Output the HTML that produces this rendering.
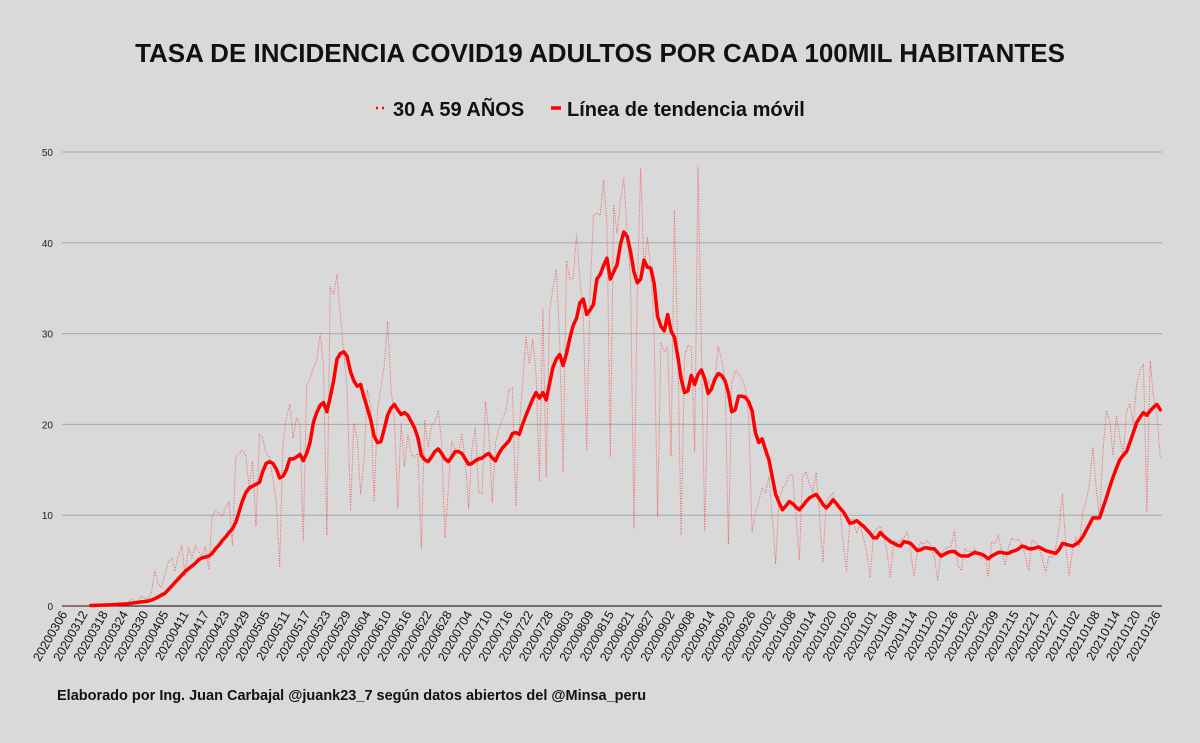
<!DOCTYPE html>
<html><head><meta charset="utf-8">
<style>
html,body{margin:0;padding:0;background:#d9d9d9;}
svg{display:block;font-family:"Liberation Sans",Arial,sans-serif;}
</style></head>
<body>
<svg id="chart" width="1200" height="743" viewBox="0 0 1200 743">
<rect x="0" y="0" width="1200" height="743" fill="#d9d9d9"/>
<text x="600" y="62" text-anchor="middle" font-size="26" font-weight="bold" fill="#111">TASA DE INCIDENCIA COVID19 ADULTOS POR CADA 100MIL HABITANTES</text>
<g>
<g>
<line x1="376" y1="108" x2="388" y2="108" stroke="#ff0000" stroke-width="2.5" stroke-dasharray="2,4"/>
<text x="393" y="116" font-size="20" font-weight="bold" fill="#111">30 A 59 AÑOS</text>
</g>
<g>
<line x1="551" y1="108" x2="561" y2="108" stroke="#ff0000" stroke-width="3.5"/>
<text x="567" y="116" font-size="20" font-weight="bold" fill="#111">Línea de tendencia móvil</text>
</g>
</g>
<g id="grid"></g>
<g id="yaxis"></g>
<g id="xaxis"></g>
<g id="series"></g>
<text x="57" y="700" font-size="14.5" font-weight="bold" fill="#111">Elaborado por Ing. Juan Carbajal @juank23_7 según datos abiertos del @Minsa_peru</text>
</svg>
<script>
const tickLabels = ["20200306","20200312","20200318","20200324","20200330","20200405","20200411","20200417","20200423","20200429","20200505","20200511","20200517","20200523","20200529","20200604","20200610","20200616","20200622","20200628","20200704","20200710","20200716","20200722","20200728","20200803","20200809","20200815","20200821","20200827","20200902","20200908","20200914","20200920","20200926","20201002","20201008","20201014","20201020","20201026","20201101","20201108","20201114","20201120","20201126","20201202","20201209","20201215","20201221","20201227","20210102","20210108","20210114","20210120","20210126"];
const yTicks = [0,10,20,30,40,50];
const dailyValues = [
0,0,0,0,0,0,0,0,0.05,0.1,
0.1,0.1,0.1,0.15,0.2,0.2,0.2,0.25,0.3,0.3,
0.8,0.6,0.5,1.1,0.9,0.8,1.5,3.9,2.5,2.0,
3.5,4.8,5.3,4.0,5.5,6.7,3.3,6.5,5.3,6.6,
6.0,5.5,6.6,4.1,9.9,10.5,10.2,9.9,10.8,11.5,
6.7,16.4,16.8,17.2,16.5,13.0,16.0,8.8,18.9,18.5,
16.8,16.4,14.0,11.5,4.3,18.0,20.8,22.2,18.5,20.7,
20.0,7.1,24.3,25.0,26.3,27.0,30.1,26.5,7.8,35.2,
34.3,36.5,32.0,28.0,24.0,10.5,20.1,18.5,12.3,16.0,
23.8,22.0,11.5,21.5,24.0,26.5,31.3,24.0,20.6,10.8,
20.1,15.4,18.9,16.6,16.5,16.8,6.3,20.5,17.5,19.8,
20.3,21.5,18.0,7.5,13.0,18.2,17.3,16.8,19.0,16.0,
10.7,17.3,19.7,12.5,12.3,22.5,19.2,11.4,18.0,19.5,
20.5,21.5,23.8,24.0,11.0,19.5,24.5,29.7,26.7,29.4,
25.5,13.8,32.8,14.2,32.5,35.0,37.1,29.0,14.8,38.0,
36.0,36.1,41.0,36.0,32.0,17.1,34.7,43.0,43.3,43.0,
46.9,42.0,16.4,44.2,41.0,44.5,47.2,41.0,36.0,8.5,
35.0,48.2,37.0,40.6,37.0,30.0,9.8,29.0,28.0,28.5,
16.5,43.6,28.0,7.7,27.5,28.7,28.5,17.0,48.4,28.0,
8.2,25.0,23.8,25.0,28.6,27.0,25.0,6.8,24.5,25.9,
25.6,25.0,24.0,21.0,8.1,10.3,11.5,13.0,12.5,14.3,
9.8,4.6,12.0,12.8,13.5,14.4,14.5,10.0,5.0,14.3,
14.8,13.5,12.5,14.7,10.0,4.8,11.5,12.0,12.5,11.0,
10.8,7.0,3.8,9.5,9.5,8.0,9.0,7.5,6.0,3.1,
8.0,8.5,8.8,8.0,6.0,3.2,7.2,7.0,7.2,7.5,
8.2,6.0,3.3,6.0,7.0,6.8,7.2,6.6,5.5,2.8,
5.8,6.2,6.5,6.5,8.3,4.5,3.9,6.3,6.0,6.0,
6.3,5.6,5.2,5.7,3.2,7.0,6.9,7.8,6.0,4.5,
6.5,7.5,7.2,7.3,6.8,5.5,3.9,7.3,7.0,6.5,
5.3,3.7,5.5,5.3,6.5,8.6,12.4,6.5,3.3,6.3,
7.5,6.5,10.5,11.5,13.5,17.5,13.0,9.6,17.0,21.5,
20.5,16.5,21.0,18.5,16.5,21.5,22.3,20.0,24.5,25.9,
26.7,10.4,27.0,23.0,21.0,16.3];
const trendValues = [
null,null,null,null,null,null,null,null,
0.05,0.07,0.08,0.1,0.1,0.12,0.13,0.15,0.17,0.2,0.22,0.25,
0.3,0.35,0.4,0.45,0.5,0.55,0.65,0.8,1.0,1.2,
1.4,1.8,2.2,2.6,3.0,3.4,3.8,4.1,4.4,4.7,
5.1,5.3,5.4,5.5,5.8,6.3,6.7,7.2,7.6,8.1,
8.5,9.2,10.4,11.6,12.5,13.0,13.2,13.4,13.6,14.8,
15.7,15.9,15.7,15.1,14.1,14.3,15.0,16.2,16.2,16.4,
16.7,16.0,16.8,18.0,20.2,21.3,22.1,22.4,21.4,23.0,
24.8,27.2,27.8,28.0,27.5,25.8,24.8,24.2,24.4,23.0,
21.8,20.5,18.7,18.0,18.1,19.5,21.0,21.8,22.2,21.6,
21.1,21.3,21.0,20.3,19.6,18.5,16.6,16.1,15.9,16.4,
17.0,17.3,16.8,16.2,15.9,16.4,17.0,17.0,16.8,16.2,
15.6,15.7,16.0,16.2,16.3,16.6,16.8,16.3,16.0,16.8,
17.4,17.8,18.2,19.0,19.1,18.9,20.0,21.0,21.9,22.8,
23.5,22.9,23.5,22.7,24.5,26.3,27.2,27.7,26.5,27.8,
29.5,30.9,31.7,33.4,33.8,32.1,32.6,33.2,36.0,36.5,
37.5,38.3,36.0,36.8,37.6,39.8,41.2,40.7,39.0,36.8,
35.6,36.0,38.1,37.3,37.2,35.5,31.9,30.8,30.3,32.1,
30.3,29.6,27.5,25.0,23.5,23.7,25.4,24.4,25.5,26.0,
25.0,23.4,23.9,25.0,25.6,25.4,24.8,23.5,21.4,21.6,
23.1,23.1,23.0,22.5,21.5,19.1,18.0,18.4,17.2,16.1,
14.2,12.3,11.4,10.6,11.0,11.5,11.3,10.9,10.6,11.0,
11.5,11.9,12.1,12.3,11.8,11.2,10.8,11.2,11.7,11.3,
10.8,10.4,9.8,9.1,9.2,9.4,9.1,8.8,8.4,8.0,
7.5,7.5,8.1,7.7,7.4,7.1,6.9,6.7,6.6,7.1,
7.0,6.9,6.5,6.1,6.2,6.4,6.4,6.3,6.3,5.9,
5.5,5.7,5.9,6.0,6.0,5.7,5.5,5.5,5.5,5.7,
5.9,5.8,5.7,5.5,5.2,5.5,5.7,5.9,5.9,5.8,
5.8,6.0,6.1,6.3,6.6,6.5,6.3,6.3,6.4,6.5,
6.3,6.1,6.0,5.9,5.8,6.2,6.9,6.8,6.7,6.6,
6.8,7.1,7.6,8.3,9.0,9.7,9.7,9.7,10.8,11.9,
13.1,14.2,15.2,16.1,16.6,17.0,18.0,19.1,20.2,20.8,
21.3,21.0,21.5,21.9,22.2,21.6];
const tickEvery = 6;

const NS = "http://www.w3.org/2000/svg";
const plotL = 62, plotR = 1162, plotT = 152, plotB = 606, yMax = 50;
const N = dailyValues.length;
const step = (plotR - plotL) / N;
function xPos(i){ return plotL + (i + 0.5) * step; }
function yPos(v){ return plotB - v / yMax * (plotB - plotT); }

const grid = document.getElementById('grid');
const yaxis = document.getElementById('yaxis');
yTicks.forEach(function(t){
  const ln = document.createElementNS(NS,'line');
  
  
  ln.setAttribute('x1', plotL); ln.setAttribute('x2', plotR);
  ln.setAttribute('y1', yPos(t)); ln.setAttribute('y2', yPos(t));
  ln.setAttribute('stroke', t === 0 ? '#333' : '#a8a8a8');
  ln.setAttribute('stroke-width', t === 0 ? 1.3 : 1);
  grid.appendChild(ln);
  const tx = document.createElementNS(NS,'text');
  
  
  tx.setAttribute('x', 53); tx.setAttribute('y', yPos(t) + 4);
  tx.setAttribute('text-anchor', 'end'); tx.setAttribute('font-size', '10');
  tx.setAttribute('fill', '#222');
  tx.textContent = t;
  yaxis.appendChild(tx);
});

const xaxis = document.getElementById('xaxis');
tickLabels.forEach(function(lbl, k){
  const x = xPos(k * tickEvery);
  const tx = document.createElementNS(NS,'text');
  
  
  tx.setAttribute('transform', 'translate(' + (x + 4) + ',' + 614 + ') rotate(-60)');
  tx.setAttribute('text-anchor', 'end'); tx.setAttribute('font-size', '12.5');
  tx.setAttribute('fill', '#111');
  tx.textContent = lbl;
  xaxis.appendChild(tx);
});

const series = document.getElementById('series');
function buildPath(arr){
  let d = '', pen = false;
  arr.forEach(function(v, i){
    if (v === null || v === undefined) { pen = false; return; }
    d += (pen ? 'L' : 'M') + xPos(i).toFixed(2) + ',' + yPos(v).toFixed(2);
    pen = true;
  });
  return d;
}
const daily = document.createElementNS(NS,'path');


daily.setAttribute('d', buildPath(dailyValues));
daily.setAttribute('fill', 'none'); daily.setAttribute('stroke', '#ff3030');
daily.setAttribute('stroke-width', '1'); daily.setAttribute('stroke-dasharray', '1,1.5');
daily.setAttribute('stroke-opacity', '0.75');
series.appendChild(daily);
const trend = document.createElementNS(NS,'path');


trend.setAttribute('d', buildPath(trendValues));
trend.setAttribute('fill', 'none'); trend.setAttribute('stroke', '#ff0000');
trend.setAttribute('stroke-width', '3.5'); trend.setAttribute('stroke-linejoin', 'round');
trend.setAttribute('stroke-linecap', 'round');
series.appendChild(trend);
</script>
</body></html>
